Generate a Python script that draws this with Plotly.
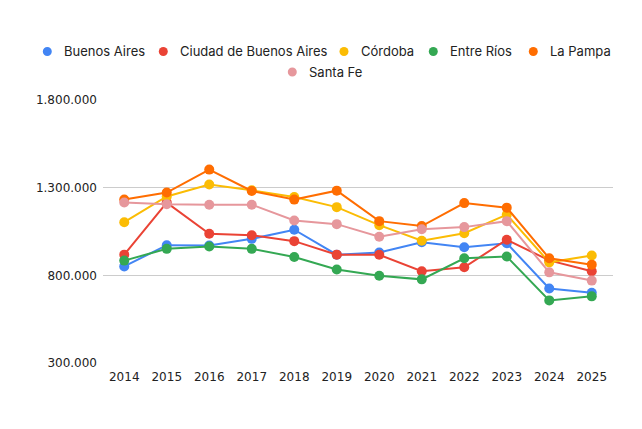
import plotly.graph_objects as go

years = ["2014", "2015", "2016", "2017", "2018", "2019", "2020", "2021", "2022", "2023", "2024", "2025"]

buenos_aires = [851000, 972000, 970000, 1008000, 1060000, 918000, 930000, 989000, 960000, 983000, 725000, 701000]
caba = [918000, 1215000, 1037000, 1029000, 995000, 918000, 917000, 823000, 846000, 1003000, 885000, 823000]
cordoba = [1103000, 1250000, 1318000, 1285000, 1247000, 1189000, 1086000, 997000, 1040000, 1146000, 874000, 913000]
entre_rios = [884000, 951000, 964000, 951000, 905000, 833000, 798000, 777000, 897000, 907000, 657000, 680000]
la_pampa = [1232000, 1272000, 1403000, 1281000, 1232000, 1283000, 1109000, 1081000, 1212000, 1186000, 897000, 861000]
santa_fe = [1215000, 1205000, 1203000, 1203000, 1113000, 1092000, 1020000, 1063000, 1075000, 1109000, 817000, 770000]

series_names = ["Buenos Aires", "Ciudad de Buenos Aires", "Córdoba", "Entre Ríos", "La Pampa", "Santa Fe"]
series_values = [buenos_aires, caba, cordoba, entre_rios, la_pampa, santa_fe]

y_ticks = [300000, 800000, 1300000, 1800000]
y_tick_labels = ["300.000", "800.000", "1.300.000", "1.800.000"]

# ---- styling / layout (not data) ----
COLORS = ["#4285F4", "#EA4335", "#FBBC04", "#34A853", "#FF6D01", "#E6979C"]
OFF = 8  # default page body margin
W, H = 642 - OFF, 429 - OFF
ML, MR, MT, MB = 103 - OFF, 29, 100 - OFF, 66
PW, PH = W - ML - MR, H - MT - MB

# legend layout in window pixels: (symbol centre x, row centre y)
LEGEND_POS = [(47.3, 51.5), (163.3, 51.5), (344.0, 51.5), (433.3, 51.5), (533.3, 51.5), (292.3, 72.0)]
TEXT_GAP = 14.5


def px_to_paper(px, py):
    return (px - OFF - ML) / PW, (H - MB - (py - OFF)) / PH


fig = go.Figure()
for name, vals, color in zip(series_names, series_values, COLORS):
    fig.add_trace(go.Scatter(
        x=years, y=vals, name=name, mode="lines+markers",
        line=dict(color=color, width=2),
        marker=dict(color=color, size=10),
        showlegend=False,
    ))

shapes = []
annotations = []
for name, color, (cx, cy) in zip(series_names, COLORS, LEGEND_POS):
    xp, yp = px_to_paper(cx, cy)
    shapes.append(dict(
        type="circle", xref="paper", yref="paper",
        xsizemode="pixel", ysizemode="pixel", xanchor=xp, yanchor=yp,
        x0=-4.5, x1=4.5, y0=-4.5, y1=4.5,
        fillcolor=color, line=dict(width=0), layer="above",
    ))
    tx, ty = px_to_paper(cx + TEXT_GAP, cy)
    annotations.append(dict(
        text=name, xref="paper", yref="paper", x=tx, y=ty,
        xanchor="left", yanchor="middle", showarrow=False,
        font=dict(family="Inter", size=13, color="#222222"),
    ))

fig.update_layout(
    width=W, height=H,
    margin=dict(l=ML, r=MR, t=MT, b=MB),
    paper_bgcolor="white", plot_bgcolor="white",
    font=dict(family="DejaVu Sans", size=12, color="#222222"),
    showlegend=False,
    shapes=shapes, annotations=annotations,
)
fig.update_xaxes(type="category", range=[-0.5, len(years) - 0.5], showgrid=False,
                 showline=False, ticks="", ticklabelstandoff=5,
                 tickfont=dict(family="DejaVu Sans", size=12, color="#222222"))
fig.update_yaxes(range=[300000, 1800000], tickvals=y_ticks, ticktext=y_tick_labels,
                 showgrid=True, gridcolor="#cccccc", gridwidth=1, zeroline=False,
                 showline=False, ticks="", ticklen=0, ticklabelstandoff=5,
                 tickfont=dict(family="DejaVu Sans", size=12, color="#222222"))

fig.write_html("out.html")
